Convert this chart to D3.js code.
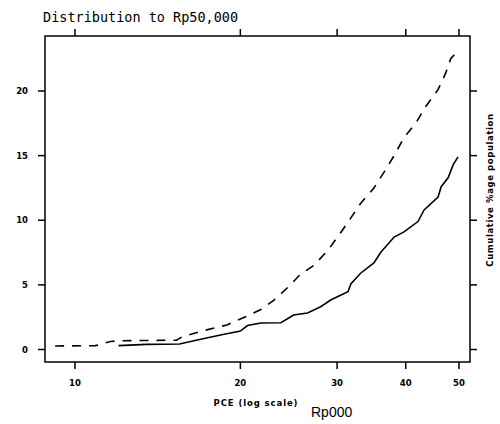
<!DOCTYPE html>
<html><head><meta charset="utf-8">
<script src="https://cdn.jsdelivr.net/npm/d3@7"></script>
<style>body{margin:0;background:#fff}svg{display:block}</style>
</head><body>
<script>
const title = "Distribution to Rp50,000";
const xLabel = "PCE (log scale)";
const unitLabel = "Rp000";
const yLabel = "Cumulative %age population";
const xTicks = [10, 20, 30, 40, 50];
const yTicks = [0, 5, 10, 15, 20];
// dashed series
const dashedX = [9.2,10.9,11.6,12.0,15.3,15.7,17.1,18.9,20.6,21.8,23.0,24.4,25.7,27.2,28.9,30.4,31.8,33.1,35.0,36.5,38.1,39.7,41.7,43.5,45.8,47.3,48.3,50.0];
const dashedY = [0.27,0.3,0.62,0.68,0.72,1.0,1.45,1.9,2.6,3.1,3.8,4.8,5.8,6.5,7.7,9.0,10.2,11.3,12.5,13.7,15.0,16.4,17.5,18.8,20.1,21.4,22.5,23.2];
// solid series
const solidX = [12.0,13.5,15.5,16.7,18.4,20.0,20.6,21.8,23.7,25.0,26.5,28.0,29.2,31.4,31.8,33.1,35.0,36.0,38.1,39.7,42.1,43.2,45.8,46.4,47.8,48.8,49.8];
const solidY = [0.3,0.4,0.43,0.73,1.12,1.43,1.85,2.05,2.07,2.67,2.82,3.31,3.83,4.47,5.1,5.9,6.7,7.5,8.7,9.1,9.9,10.8,11.8,12.6,13.3,14.3,14.9];

const W = 500, H = 424;
const L = 45, R = 470, T = 36, B = 362;
const svg = d3.select("body").append("svg").attr("width", W).attr("height", H);
const x = d3.scaleLog().domain([10, 50]).range([75, 459]);
const y = d3.scaleLinear().domain([0, 20]).range([349.5, 91]);

svg.append("rect").attr("x", L).attr("y", T).attr("width", R - L).attr("height", B - T)
  .attr("fill", "none").attr("stroke", "#000").attr("stroke-width", 1.5);

const tickFont = "'DejaVu Sans', sans-serif";
const tl = 7;
xTicks.forEach(v => {
  svg.append("line").attr("x1", x(v)).attr("x2", x(v)).attr("y1", B).attr("y2", B + tl).attr("stroke", "#000").attr("stroke-width", 1.5);
  svg.append("line").attr("x1", x(v)).attr("x2", x(v)).attr("y1", T).attr("y2", T - tl).attr("stroke", "#000").attr("stroke-width", 1.5);
  svg.append("text").attr("x", x(v)).attr("y", 386).attr("text-anchor", "middle")
    .attr("font-family", tickFont).attr("font-weight", "bold").attr("font-size", 8.5).text(v);
});
yTicks.forEach(v => {
  svg.append("line").attr("x1", L).attr("x2", L - tl).attr("y1", y(v)).attr("y2", y(v)).attr("stroke", "#000").attr("stroke-width", 1.5);
  svg.append("line").attr("x1", R).attr("x2", R + tl).attr("y1", y(v)).attr("y2", y(v)).attr("stroke", "#000").attr("stroke-width", 1.5);
  svg.append("text").attr("x", 28).attr("y", y(v) + 3).attr("text-anchor", "end")
    .attr("font-family", tickFont).attr("font-weight", "bold").attr("font-size", 8.5).text(v);
});

const line = d3.line().x(d => x(d[0])).y(d => y(d[1]));
svg.append("path").datum(dashedX.map((v, i) => [v, dashedY[i]])).attr("d", line)
  .attr("fill", "none").attr("stroke", "#000").attr("stroke-width", 1.6).attr("stroke-dasharray", "9,8");
svg.append("path").datum(solidX.map((v, i) => [v, solidY[i]])).attr("d", line)
  .attr("fill", "none").attr("stroke", "#000").attr("stroke-width", 1.6);

svg.append("text").attr("x", 43).attr("y", 22).attr("font-family", "'DejaVu Sans Mono', monospace")
  .attr("font-size", 13.5).text(title);
svg.append("text").attr("x", 256).attr("y", 406).attr("text-anchor", "middle")
  .attr("font-family", tickFont).attr("font-weight", "bold").attr("font-size", 8.5)
  .attr("letter-spacing", 0.9).text(xLabel);
svg.append("text").attr("x", 311).attr("y", 417)
  .attr("font-family", "'Liberation Sans', Arial, sans-serif").attr("font-size", 14).text(unitLabel);
svg.append("text").attr("transform", "translate(493,190) rotate(-90)").attr("text-anchor", "middle")
  .attr("font-family", tickFont).attr("font-weight", "bold").attr("font-size", 8.5)
  .attr("letter-spacing", 0.6).text(yLabel);
</script>
</body></html>
